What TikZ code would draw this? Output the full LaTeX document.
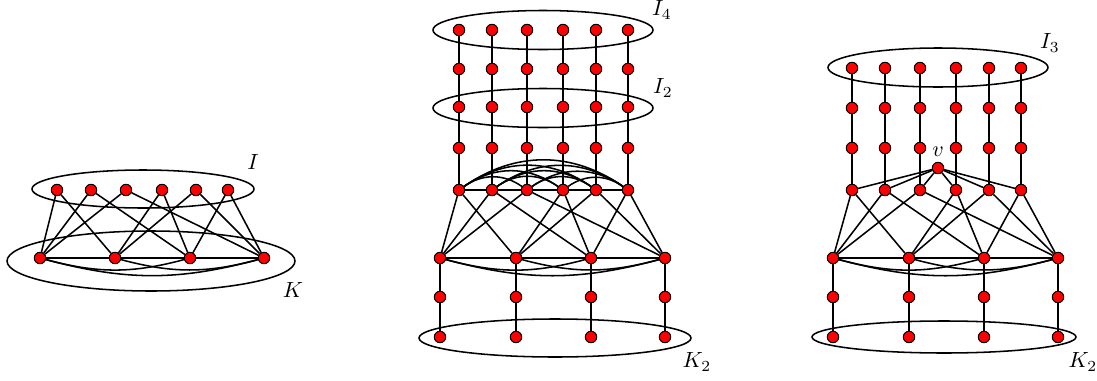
\documentclass[tikz,border=0pt]{standalone}
\usepackage{mathtools}
\usepackage{tikz}
\usetikzlibrary{calc,arrows,shapes}

\begin{document}
\begin{tikzpicture}
[x=0.01598cm,y=0.01598cm, line width=0.7pt,
			vert/.style={circle,draw,fill=red,inner sep=0pt,minimum size=5.2pt,line width=0.45pt}]
\useasboundingbox (0,0) rectangle (1097,380);

% left: I and K
\draw (143,191) ellipse [x radius=111,y radius=19];
\draw (151,119) ellipse [x radius=144,y radius=30];
\foreach \x [count=\i] in {57,91,126,162,196,228}
	\node (i\i) at (\x,190)[vert] {};
\foreach \x [count=\j] in {40,115,190,264}
	\node (k\j) at (\x,122)[vert] {};
\foreach \i/\j in {1/1,1/2,2/1,2/3,3/1,3/4,4/2,4/3,5/2,5/4,6/3,6/4}
	\draw (i\i) -- (k\j);
\draw (k1) -- (k2) -- (k3) -- (k4);
\draw (k1) edge [bend right=15] (k3);
\draw (k2) edge [bend right=15] (k4);
\draw (k1) edge [bend right=15] (k4);
\node (lI) at (253,218) {$I$};
\node (lK) at (293,90) {$K$};

% middle: I_4, I_2, K_2
\draw (543,350) ellipse [x radius=110,y radius=19.5];
\draw (543,272) ellipse [x radius=110,y radius=19.5];
\draw (555,42) ellipse [x radius=136,y radius=19];
\foreach \x [count=\i] in {459,492,527,563,596,628}
	\foreach \y [count=\r] in {350,311,273,232,190}
		\node (m\r\i) at (\x,\y)[vert] {};
\foreach \x [count=\j] in {440,516,591,665}{
	\node (mk\j) at (\x,122)[vert] {};
	\node (ml\j) at (\x,83)[vert] {};
	\node (mb\j) at (\x,43)[vert] {};
}
\foreach \i in {1,...,6}
	\draw (m1\i) -- (m2\i) -- (m3\i) -- (m4\i) -- (m5\i);
\draw (m51) -- (m52) -- (m53) -- (m54) -- (m55) -- (m56);
\foreach \i/\j in {1/3,1/4,1/5,1/6,2/4,2/5,2/6,3/5,3/6,4/6}
	\draw (m5\i) edge [bend left=35] (m5\j);
\foreach \i/\j in {1/1,1/2,2/1,2/3,3/1,3/4,4/2,4/3,5/2,5/4,6/3,6/4}
	\draw (m5\i) -- (mk\j);
\draw (mk1) -- (mk2) -- (mk3) -- (mk4);
\draw (mk1) edge [bend right=15] (mk3);
\draw (mk2) edge [bend right=15] (mk4);
\draw (mk1) edge [bend right=15] (mk4);
\foreach \j in {1,...,4}
	\draw (mk\j) -- (ml\j) -- (mb\j);
\node (lI4) at (662,370) {$I_4$};
\node (lI2) at (663,292) {$I_2$};
\node (lK2) at (697,18) {$K_2$};

% right: I_3, v, K_2
\draw (938,312.5) ellipse [x radius=110,y radius=19.5];
\draw (944,43) ellipse [x radius=132,y radius=16];
\foreach \x [count=\i] in {852,885,920,956,989,1021}
	\foreach \y [count=\r] in {312,272,232,190}
		\node (r\r\i) at (\x,\y)[vert] {};
\node (v) at (938,212)[vert] {};
\foreach \x [count=\j] in {833,909,984,1058}{
	\node (rk\j) at (\x,122)[vert] {};
	\node (rl\j) at (\x,83)[vert] {};
	\node (rb\j) at (\x,43)[vert] {};
}
\foreach \i in {1,...,6}{
	\draw (r1\i) -- (r2\i) -- (r3\i) -- (r4\i);
	\draw (v) -- (r4\i);
}
\foreach \i/\j in {1/1,1/2,2/1,2/3,3/1,3/4,4/2,4/3,5/2,5/4,6/3,6/4}
	\draw (r4\i) -- (rk\j);
\draw (rk1) -- (rk2) -- (rk3) -- (rk4);
\draw (rk1) edge [bend right=15] (rk3);
\draw (rk2) edge [bend right=15] (rk4);
\draw (rk1) edge [bend right=15] (rk4);
\foreach \j in {1,...,4}
	\draw (rk\j) -- (rl\j) -- (rb\j);
\node (lv) at (938,228) {$v$};
\node (lI3) at (1050,337) {$I_3$};
\node (lK2r) at (1083,18) {$K_2$};

\end{tikzpicture}
\end{document}
